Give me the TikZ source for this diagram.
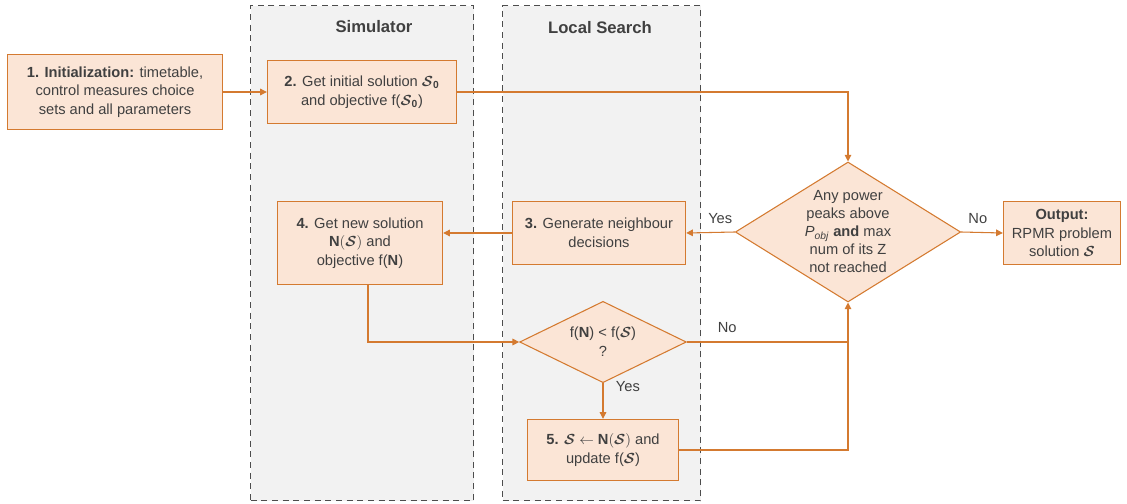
\documentclass[tikz,border=0pt]{standalone}
\usepackage{amsmath}
\usepackage{fontspec}
\setmainfont{Liberation Sans}
\usetikzlibrary{shapes.geometric}
\usetikzlibrary{arrows.meta}
\definecolor{FlowLine}{HTML}{D47A30}
\definecolor{FlowFill}{HTML}{FBE5D6}
\definecolor{PanelBg}{HTML}{F2F2F2}
\definecolor{PanelLine}{HTML}{4D4D4D}
\definecolor{TextGray}{HTML}{404040}
\newcommand{\solS}{\boldsymbol{\mathcal{S}}}
\newcommand{\panelw}{223}
\newcommand{\panelh}{495}
\tikzset{
  stepbox/.style={draw=FlowLine, fill=FlowFill, line width=0.8pt, text=TextGray,
    align=center, inner sep=2pt},
  decision/.style={diamond, draw=FlowLine, fill=FlowFill, line width=0.8pt,
    inner sep=0pt},
  flow/.style={draw=FlowLine, line width=0.8pt, -{Triangle[length=5pt,width=5pt]}},
  joinline/.style={draw=FlowLine, line width=0.8pt},
  panel/.style={draw=PanelLine, fill=PanelBg, dash pattern=on 4.5pt off 3.5pt,
    line width=1.1pt, inner sep=0pt, anchor=north west},
  paneltitle/.style={text=TextGray, font=\fontsize{12.5}{14}\selectfont\bfseries},
  branch/.style={text=TextGray}
}

\begin{document}
\begin{tikzpicture}[x=0.75pt, y=-0.75pt, font=\fontsize{11}{14}\selectfont]
    \useasboundingbox (0,0) rectangle (1127,503);
    % panels
    \node[panel, minimum width=\panelw*0.75pt, minimum height=\panelh*0.75pt] (simpanel) at (250,5) {};
    \node[panel, minimum width=198*0.75pt, minimum height=\panelh*0.75pt] (lspanel) at (502,5) {};
    \node[paneltitle] (simtitle) at (374,27) {Simulator};
    \node[paneltitle] (lstitle) at (600,28) {Local Search};

    % steps
    \node[stepbox, minimum width=161pt, minimum height=56pt] (init) at (115,92)
      {\textbf{1. Initialization:} timetable,\\ control measures choice\\ sets and all parameters};
    \node[stepbox, minimum width=142pt, minimum height=47pt] (getinit) at (362,92)
      {\textbf{2.} Get initial solution $\solS_{\mathbf{0}}$\\ and objective f($\solS_{\mathbf{0}}$)};
    \node[stepbox, minimum width=130pt, minimum height=47pt] (gen) at (599,233)
      {\textbf{3.} Generate neighbour\\ decisions};
    \node[stepbox, minimum width=124pt, minimum height=62pt] (newsol) at (360,243)
      {\textbf{4.} Get new solution\\ $\mathbf{N}(\solS)$ and\\ objective f($\mathbf{N}$)};
    \node[stepbox, minimum width=113pt, minimum height=46pt] (accept) at (603,450)
      {\textbf{5.} $\solS \leftarrow \mathbf{N}(\solS)$ and\\ update f($\solS$)};
    \node[stepbox, minimum width=88pt, minimum height=47pt] (output) at (1062,233)
      {\textbf{Output:}\\ RPMR problem\\ solution $\solS$};

    % decisions
    \node[decision, minimum width=169pt, minimum height=105pt] (check) at (848,232) {};
    \node[text=TextGray, align=center, font=\fontsize{11}{13.5}\selectfont] (checktxt) at (check.center)
      {Any power\\ peaks above\\ \textit{P}\textsubscript{\textit{obj}} \textbf{and} max\\ num of its Z\\ not reached};
    \node[decision, minimum width=125pt, minimum height=61pt] (improve) at (603,342) {};
    \node[text=TextGray, align=center] (improvetxt) at (improve.center)
      {f($\mathbf{N}$) < f($\solS$)\\ ?};

    % connectors
    \draw[flow] (init.east) -- (getinit.west);
    \draw[flow] (getinit.east) -| (check.north);
    \draw[flow] (check.west) -- node[branch, above=3pt, pos=0.3] {Yes} (gen.east);
    \draw[flow] (gen.west) -- (gen.west -| newsol.east);
    \draw[flow] (check.east) -- node[branch, above=3pt, pos=0.4] {No} (output.west);
    \draw[flow] ([xshift=6pt]newsol.south) |- (improve.west);
    \draw[flow] (improve.east) -- node[branch, above=3pt, pos=0.25] {No} (improve.east -| check.south) -- (check.south);
    \draw[flow] (improve.south) -- node[branch, right=6pt, pos=0.1] {Yes} (accept.north);
    \draw[joinline] (accept.east) -- (accept.east -| check.south) -- (improve.east -| check.south);
\end{tikzpicture}
\end{document}
